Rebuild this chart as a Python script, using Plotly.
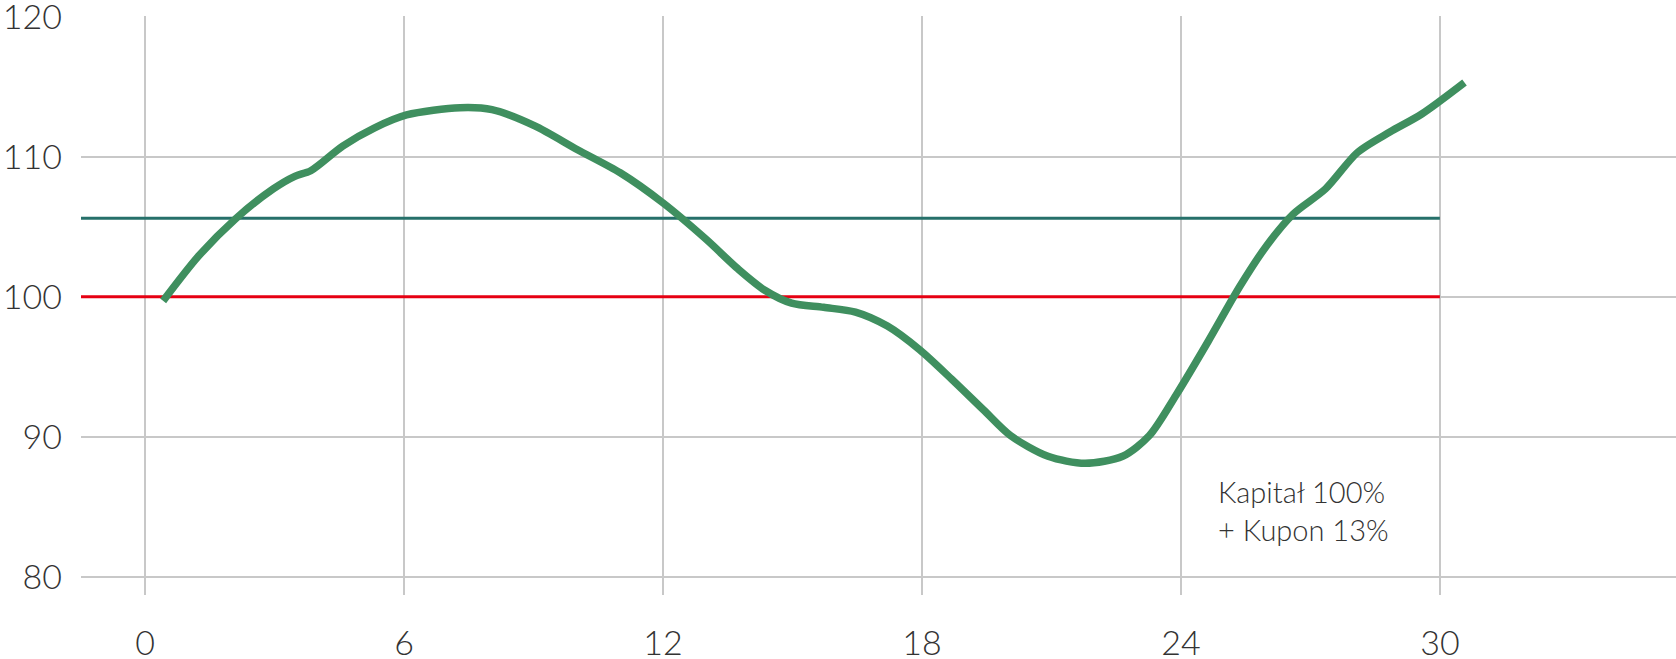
import plotly.graph_objects as go

# data
x_ticks = [0, 6, 12, 18, 24, 30]
y_ticks = [80, 90, 100, 110, 120]

curve_x = [0.42, 1.24, 2.10, 2.97, 3.47, 3.84, 4.58, 5.32, 6.06, 7.30, 8.04, 9.03, 10.02,
           11.01, 12.0, 13.0, 13.74, 14.36, 14.98, 15.72, 16.46, 17.2, 17.95, 18.69,
           19.43, 20.05, 20.92, 21.78, 22.65, 23.27, 23.89, 24.63, 25.37, 25.99, 26.6,
           27.35, 28.09, 28.84, 29.58, 30.57]
curve_y = [99.7, 102.9, 105.57, 107.7, 108.6, 109.0, 110.76, 112.06, 112.98, 113.5, 113.36,
           112.2, 110.5, 108.85, 106.7, 104.1, 101.98, 100.46, 99.54, 99.24, 98.9, 97.9,
           96.2, 94.1, 91.9, 90.08, 88.6, 88.1, 88.6, 90.08, 92.98, 96.8, 100.76, 103.66,
           105.9, 107.7, 110.3, 111.76, 113.05, 115.3]

capital_level = 100
coupon_level = 105.6
lines_end = 30
annotation_text = "Kapitał 100%<br>+ Kupon 13%"

x_range = [-1.483, 35.47]
y_range = [78.69, 120.05]

fig = go.Figure()
fig.add_trace(go.Scatter(x=[x_range[0], lines_end], y=[coupon_level, coupon_level], mode="lines",
                         line=dict(color="#26706a", width=3), hoverinfo="skip"))
fig.add_trace(go.Scatter(x=[x_range[0], lines_end], y=[capital_level, capital_level], mode="lines",
                         line=dict(color="#e60012", width=3), hoverinfo="skip"))
fig.add_trace(go.Scatter(x=curve_x, y=curve_y, mode="lines",
                         line=dict(color="#3f8f5f", width=7.5, shape="spline", smoothing=0.8)))

fig.add_annotation(x=24.82, y=84.76, xref="x", yref="y", text=annotation_text, showarrow=False,
                   xanchor="left", yanchor="middle", align="left",
                   font=dict(family="Lato", size=29, color="#333333", weight=300))

font = dict(family="Lato", size=34, color="#333333", weight=300)
fig.update_layout(
    width=1676, height=659,
    margin=dict(l=81, r=0, t=16, b=64, autoexpand=False),
    paper_bgcolor="white", plot_bgcolor="white",
    showlegend=False,
    xaxis=dict(range=x_range, tickvals=x_ticks, ticktext=[str(v) for v in x_ticks],
               showgrid=True, gridcolor="#c8c8c8", gridwidth=2, zeroline=False, automargin=False,
               showline=False, ticks="", tickfont=font, ticklabelstandoff=25,
               ticklabeloverflow="allow"),
    yaxis=dict(range=y_range, tickvals=y_ticks, ticktext=[str(v) for v in y_ticks],
               showgrid=True, gridcolor="#c8c8c8", gridwidth=2, zeroline=False, automargin=False,
               showline=False, ticks="", tickfont=font, ticklabelstandoff=18,
               ticklabeloverflow="allow"),
)
fig.write_html("out.html", config={"displayModeBar": False},
               post_script="document.body.style.margin='0';document.body.style.overflow='hidden';")
